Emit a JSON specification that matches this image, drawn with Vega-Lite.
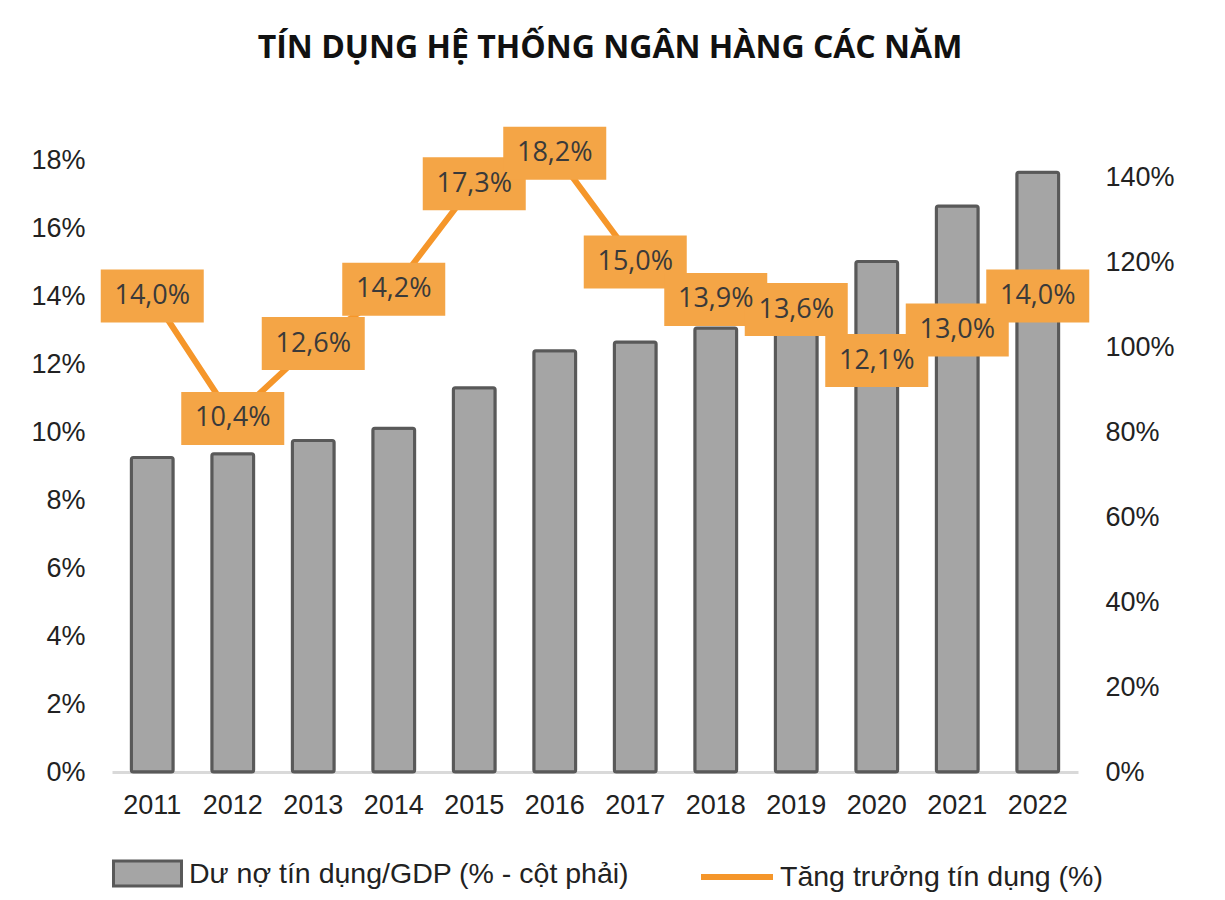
{
  "$schema": "https://vega.github.io/schema/vega-lite/v6.json",
  "width": 966,
  "height": 612,
  "autosize": {"type": "none"},
  "padding": {"left": 112, "top": 160, "right": 147, "bottom": 128},
  "background": "white",
  "title": {
    "text": "TÍN DỤNG HỆ THỐNG NGÂN HÀNG CÁC NĂM",
    "font": "Open Sans",
    "fontSize": 32,
    "fontWeight": "bold",
    "color": "#111111",
    "anchor": "middle",
    "offset": 62,
    "dx": 15
  },
  "data": {
    "values": [
      {"year": "2011", "gdp": 74.0, "g": 14.0},
      {"year": "2012", "gdp": 74.9, "g": 10.4},
      {"year": "2013", "gdp": 78.0, "g": 12.6},
      {"year": "2014", "gdp": 80.9, "g": 14.2},
      {"year": "2015", "gdp": 90.4, "g": 17.3},
      {"year": "2016", "gdp": 99.1, "g": 18.2},
      {"year": "2017", "gdp": 101.2, "g": 15.0},
      {"year": "2018", "gdp": 104.5, "g": 13.9},
      {"year": "2019", "gdp": 107.0, "g": 13.6},
      {"year": "2020", "gdp": 120.1, "g": 12.1},
      {"year": "2021", "gdp": 133.2, "g": 13.0},
      {"year": "2022", "gdp": 141.1, "g": 14.0}
    ]
  },
  "encoding": {
    "x": {
      "field": "year",
      "type": "ordinal",
      "scale": {"paddingInner": 0.48, "paddingOuter": 0.24},
      "axis": {
        "title": null,
        "labelAngle": 0,
        "ticks": false,
        "domainColor": "#D9D9D9",
        "domainWidth": 3,
        "labelFont": "Liberation Sans",
        "labelFontSize": 27,
        "labelColor": "#222222",
        "labelPadding": 20
      }
    }
  },
  "layer": [
    {
      "mark": {"type": "bar", "stroke": "#595959", "strokeWidth": 3, "cornerRadius": 2},
      "encoding": {
        "y": {
          "field": "gdp",
          "type": "quantitative",
          "scale": {"domain": [0, 144], "nice": false},
          "axis": {
            "orient": "right",
            "title": null,
            "values": [0, 20, 40, 60, 80, 100, 120, 140],
            "labelExpr": "datum.value + '%'",
            "grid": false,
            "ticks": false,
            "domain": false,
            "labelFont": "Liberation Sans",
            "labelFontSize": 27,
            "labelColor": "#222222",
            "labelPadding": 27
          }
        },
        "fill": {
          "datum": "Dư nợ tín dụng/GDP (% - cột phải)",
          "type": "nominal",
          "scale": {"range": ["#A5A5A5"]},
          "legend": {
            "title": null,
            "orient": "none",
            "legendX": 0,
            "legendY": 678,
            "symbolType": "M-1,-0.37L1,-0.37L1,0.37L-1,0.37Z",
            "symbolSize": 4624,
            "symbolStrokeColor": "#595959",
            "symbolStrokeWidth": 3,
            "symbolFillColor": "#A5A5A5",
            "labelFont": "Liberation Sans",
            "labelFontSize": 28.5,
            "labelColor": "#222222",
            "labelOffset": 6,
            "labelLimit": 600
          }
        }
      }
    },
    {
      "mark": {"type": "line", "strokeWidth": 6},
      "encoding": {
        "y": {
          "field": "g",
          "type": "quantitative",
          "scale": {"domain": [0, 18], "nice": false},
          "axis": {
            "orient": "left",
            "title": null,
            "values": [0, 2, 4, 6, 8, 10, 12, 14, 16, 18],
            "labelExpr": "datum.value + '%'",
            "grid": false,
            "ticks": false,
            "domain": false,
            "labelFont": "Liberation Sans",
            "labelFontSize": 27,
            "labelColor": "#222222",
            "labelPadding": 27
          }
        },
        "stroke": {
          "datum": "Tăng trưởng tín dụng (%)",
          "type": "nominal",
          "scale": {"range": ["#F5962A"]},
          "legend": {
            "title": null,
            "orient": "none",
            "legendX": 586,
            "legendY": 678,
            "symbolType": "stroke",
            "symbolSize": 5184,
            "symbolStrokeWidth": 6,
            "labelFont": "Liberation Sans",
            "labelFontSize": 28.5,
            "labelColor": "#222222",
            "labelOffset": 4,
            "labelLimit": 600
          }
        }
      }
    },
    {
      "mark": {
        "type": "point",
        "shape": "M-1,-0.515L1,-0.515L1,0.515L-1,0.515Z",
        "size": 10609,
        "filled": true,
        "fill": "#F4A546",
        "opacity": 1,
        "strokeWidth": 0
      },
      "encoding": {
        "y": {"field": "g", "type": "quantitative", "scale": {"domain": [0, 18], "nice": false}, "axis": null}
      }
    },
    {
      "transform": [{"calculate": "replace(format(datum.g, '.1f'), '.', ',') + '%'", "as": "lbl"}],
      "mark": {
        "type": "text",
        "font": "Open Sans",
        "fontSize": 27,
        "color": "#3A3A3A",
        "align": "center",
        "baseline": "middle"
      },
      "encoding": {
        "y": {"field": "g", "type": "quantitative", "scale": {"domain": [0, 18], "nice": false}, "axis": null},
        "text": {"field": "lbl"}
      }
    }
  ],
  "resolve": {"scale": {"y": "independent"}},
  "config": {"view": {"stroke": null}}
}
